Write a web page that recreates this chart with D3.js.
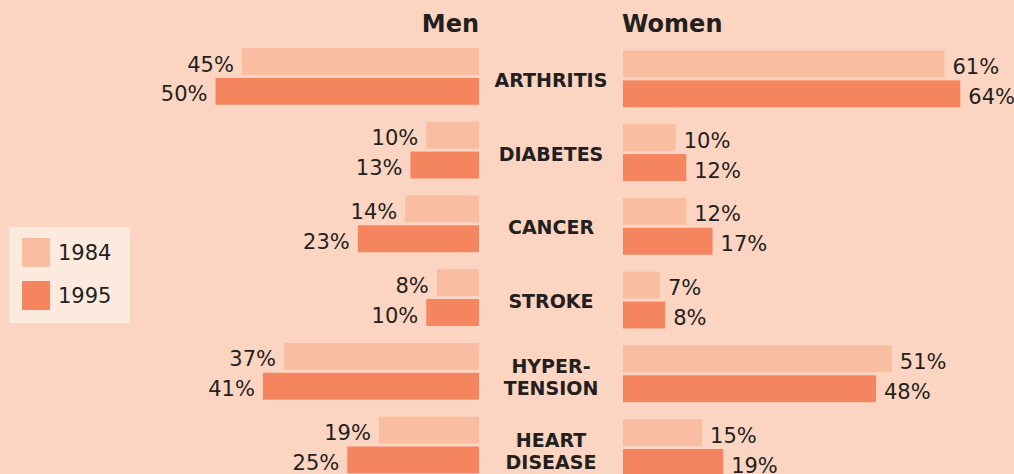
<!DOCTYPE html>
<html>
<head>
<meta charset="utf-8">
<script src="https://cdn.jsdelivr.net/npm/d3@7"></script>
<style>
  html, body { margin: 0; padding: 0; background: #FCD5C2; }
  svg { display: block; }
</style>
</head>
<body>
<svg id="chart" width="1014" height="474"></svg>
<script>
const categories = ["ARTHRITIS", "DIABETES", "CANCER", "STROKE", "HYPERTENSION", "HEART DISEASE"];
const categoryLines = [["ARTHRITIS"], ["DIABETES"], ["CANCER"], ["STROKE"], ["HYPER-", "TENSION"], ["HEART", "DISEASE"]];
const years = ["1984", "1995"];
const men1984 = [45, 10, 14, 8, 37, 19];
const men1995 = [50, 13, 23, 10, 41, 25];
const women1984 = [61, 10, 12, 7, 51, 15];
const women1995 = [64, 12, 17, 8, 48, 19];
const panels = ["Men", "Women"];

const W = 1014, H = 474;
const bg = "#FCD5C2";
const colors = { "1984": "#F9BEA2", "1995": "#F5855F" };
const textColor = "#231F20";

const svg = d3.select("#chart");
svg.append("rect").attr("width", W).attr("height", H).attr("fill", bg);

const menRight = 479, womenLeft = 623, centerX = 551;
const x = d3.scaleLinear().domain([0, 100]).range([0, 527]);
const y = d3.scaleBand().domain(categories).range([48, 473.4]).paddingInner(0.23).paddingOuter(0);
const yy = d3.scaleBand().domain(years).range([0, y.bandwidth()]).paddingInner(0.1);
const womenOffset = 2.5;

const rows = categories.map((c, i) => ({
  cat: c, lines: categoryLines[i],
  men: { "1984": men1984[i], "1995": men1995[i] },
  women: { "1984": women1984[i], "1995": women1995[i] }
}));

const valFont = "DejaVu Sans, sans-serif";

rows.forEach(r => {
  const g = svg.append("g").attr("transform", `translate(0,${y(r.cat)})`);
  years.forEach(yr => {
    // Men
    const mv = r.men[yr];
    g.append("rect")
      .attr("x", menRight - x(mv)).attr("y", yy(yr))
      .attr("width", x(mv)).attr("height", yy.bandwidth())
      .attr("fill", colors[yr]);
    g.append("text")
      .attr("x", menRight - x(mv) - 8).attr("y", yy(yr) + yy.bandwidth() / 2)
      .attr("dy", "0.48em").attr("text-anchor", "end")
      .attr("font-family", valFont).attr("font-size", 21).attr("fill", textColor)
      .text(mv + "%");
    // Women
    const wv = r.women[yr];
    g.append("rect")
      .attr("x", womenLeft).attr("y", yy(yr) + womenOffset)
      .attr("width", x(wv)).attr("height", yy.bandwidth())
      .attr("fill", colors[yr]);
    g.append("text")
      .attr("x", womenLeft + x(wv) + 8).attr("y", yy(yr) + womenOffset + yy.bandwidth() / 2)
      .attr("dy", "0.48em").attr("text-anchor", "start")
      .attr("font-family", valFont).attr("font-size", 21).attr("fill", textColor)
      .text(wv + "%");
  });
  const cy = y.bandwidth() / 2;
  const n = r.lines.length;
  r.lines.forEach((ln, i) => {
    g.append("text")
      .attr("x", centerX).attr("y", cy + 10.5 - (n - 1) * 9 + i * 22)
      .attr("text-anchor", "middle")
      .attr("font-family", valFont).attr("font-weight", "bold")
      .attr("font-size", 19).attr("fill", textColor)
      .text(ln);
  });
});

// Panel headers
svg.append("text").attr("x", menRight).attr("y", 32)
  .attr("text-anchor", "end").attr("font-family", valFont).attr("font-weight", "bold")
  .attr("font-size", 24).attr("fill", textColor).text(panels[0]);
svg.append("text").attr("x", womenLeft - 1).attr("y", 32)
  .attr("text-anchor", "start").attr("font-family", valFont).attr("font-weight", "bold")
  .attr("font-size", 24).attr("fill", textColor).text(panels[1]);

// Legend
const lg = svg.append("g").attr("transform", "translate(9,227)");
lg.append("rect").attr("width", 121).attr("height", 96).attr("fill", "#FDEADF");
years.forEach((yr, i) => {
  lg.append("rect").attr("x", 13).attr("y", 11 + i * 43).attr("width", 28).attr("height", 29)
    .attr("fill", colors[yr]);
  lg.append("text").attr("x", 49).attr("y", 11 + i * 43 + 14.5).attr("dy", "0.38em")
    .attr("font-family", valFont).attr("font-size", 21).attr("fill", textColor).text(yr);
});
</script>
</body>
</html>
